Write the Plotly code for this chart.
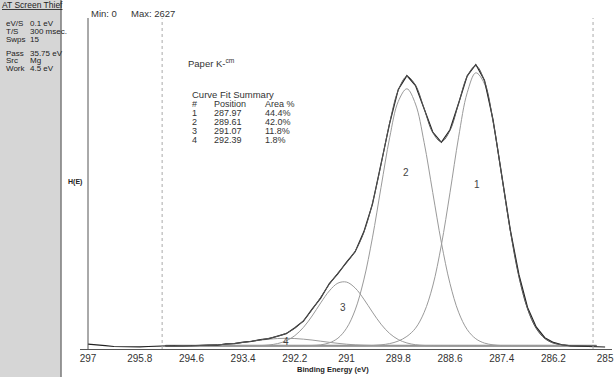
import numpy as np
import plotly.graph_objects as go

# ---------------- data ----------------
tick_vals = [297, 295.8, 294.6, 293.4, 292.2, 291, 289.8, 288.6, 287.4, 286.2, 285]
tick_text = ["297", "295.8", "294.6", "293.4", "292.2", "291", "289.8", "288.6", "287.4", "286.2", "285"]

# raw spectrum, binding energy 297.0 -> 285.0 step 0.2
data_be = [round(297.0 - 0.2 * i, 1) for i in range(61)]
data_counts = [38, 30, 27, 20, 18, 22, 17, 20, 23, 24,
               26, 24, 27, 26, 31, 30, 40, 42, 55, 60,
               75, 82, 104, 122, 168, 222, 316, 404, 520, 598,
               690, 772, 930, 1148, 1470, 1790, 2060, 2170, 2090, 1900,
               1722, 1640, 1740, 1950, 2168, 2258, 2134, 1818, 1385, 945,
               590, 330, 175, 90, 52, 34, 25, 22, 18, 17, 16]

# fit region grid, 295.2 -> 285.2 step 0.2
fit_be = [round(295.2 - 0.2 * i, 1) for i in range(51)]
baseline = 25
peak1 = [0] * 24 + [3, 8, 18, 38, 75, 140, 265, 475, 800, 1215, 1656, 2009, 2167, 2080,
                    1777, 1350, 913, 549, 294, 140, 59, 22, 8, 2, 1, 0, 0]
peak2 = [0] * 16 + [1, 3, 8, 24, 61, 140, 285, 523, 857, 1258, 1652, 1940, 2040, 1919,
                    1615, 1217, 820, 495, 267, 129, 56, 22, 8, 2, 1] + [0] * 10
peak3 = [0] * 10 + [1, 2, 7, 18, 40, 81, 147, 237, 341, 436, 498, 506, 459, 371,
                    268, 172, 98, 50, 23, 9, 3, 1] + [0] * 19
peak4 = [0, 0, 1, 1, 3, 5, 8, 13, 19, 27, 36, 45, 53, 58, 60, 58, 53, 46, 37, 28,
         20, 13, 8, 5, 3, 1, 1] + [0] * 24
envelope = [25, 25, 26, 26, 28, 30, 33, 38, 44, 52, 62, 72, 85, 101, 125, 164, 226,
            311, 411, 513, 604, 684, 777, 924, 1156, 1464, 1794, 2053, 2163, 2093,
            1908, 1718, 1645, 1735, 1948, 2163, 2248, 2127, 1810, 1377, 939, 574,
            319, 165, 84, 47, 33, 27, 26, 25, 25]

peak_labels = ["1", "2", "3", "4"]
peak_label_be = [287.97, 289.62, 291.09, 292.40]
peak_label_y = [1302, 1397, 333, 63]

summary_rows = [["1", "287.97", "44.4%"], ["2", "289.61", "42.0%"],
                ["3", "291.07", "11.8%"], ["4", "292.39", "1.8%"]]
region_bounds = [295.28, 285.28]
y_min, y_max = 0, 2627

info_lines = [["eV/S", "0.1 eV"], ["T/S", "300 msec."], ["Swps", "15"],
              ["Pass", "35.75 eV"], ["Src", "Mg"], ["Work", "4.5 eV"]]

# ---------------- figure ----------------
W, H = 614, 377
L, R, T, B = 80, 2, 18, 28
pw, ph = W - L - R, H - T - B

def px(x):
    return (x - L) / pw

def py(y):
    return (H - B - y) / ph

FONT = "Liberation Sans, Arial, sans-serif"
fig = go.Figure()

bl = np.array(fit_be) * 0 + baseline
fig.add_trace(go.Scatter(x=fit_be, y=bl, mode="lines",
                         line=dict(color="#8a8a8a", width=2), hoverinfo="skip"))
for comp in [peak1, peak2, peak3, peak4]:
    fig.add_trace(go.Scatter(x=fit_be, y=np.array(comp) + baseline, mode="lines",
                             line=dict(color="#9a9a9a", width=1, shape="spline"),
                             hoverinfo="skip"))
fig.add_trace(go.Scatter(x=data_be, y=data_counts, mode="lines",
                         line=dict(color="#222222", width=1.2), hoverinfo="skip"))
fig.add_trace(go.Scatter(x=fit_be, y=envelope, mode="lines",
                         line=dict(color="#555555", width=1, shape="spline"),
                         hoverinfo="skip"))

shapes = []
# left grey panel
shapes.append(dict(type="rect", xref="paper", yref="paper", x0=px(0), x1=px(61),
                   y0=py(377), y1=py(0), fillcolor="#d6d6d6", line=dict(width=0), layer="below"))
shapes.append(dict(type="line", xref="paper", yref="paper", x0=px(61), x1=px(61),
                   y0=py(377), y1=py(0), line=dict(color="#7a7a7a", width=1.5)))
# solid vertical at 297
shapes.append(dict(type="line", xref="x", yref="paper", x0=297, x1=297, y0=0, y1=1,
                   line=dict(color="#555555", width=1)))
# dotted region boundaries
for b in region_bounds:
    shapes.append(dict(type="line", xref="x", yref="paper", x0=b, x1=b, y0=0, y1=1,
                       line=dict(color="#aaaaaa", width=1, dash="dot")))

ann = []
def text(x, y, s, size=9.5, color="#333333", bold=False, xanchor="left"):
    if bold:
        s = "<b>" + s + "</b>"
    ann.append(dict(xref="paper", yref="paper", x=px(x), y=py(y), text=s,
                    showarrow=False, xanchor=xanchor, yanchor="middle",
                    font=dict(family=FONT, size=size, color=color)))

text(89, 13, "Min: 0", 9.5)
text(129, 13, "Max: 2627", 9.5)
text(75, 182, "H(E)", 7, "#222222", bold=True, xanchor="center")
text(186, 63, "Paper K-<sup>cm</sup>", 9.5)
text(190, 95, "Curve Fit Summary", 9.5)
text(190, 104, "#", 9)
text(212, 104, "Position", 9)
text(263, 104, "Area %", 9)
for i, row in enumerate(summary_rows):
    yy = 113 + i * 9
    text(190, yy, row[0], 9)
    text(212, yy, row[1], 9)
    text(263, yy, row[2], 9)

for lab, xb, yb in zip(peak_labels, peak_label_be, peak_label_y):
    ann.append(dict(x=xb, y=yb, xref="x", yref="y", text=lab, showarrow=False,
                    font=dict(family=FONT, size=10, color="#444444")))

# x-axis title
text(333, 369, "Binding Energy (eV)", 7.5, "#222222", bold=True, xanchor="center")

# left panel texts
text(0, 5, "<u>AT Screen Thief</u>", 8.5, "#222222")
for i, (a, b) in enumerate(info_lines):
    yy = 24 + i * 7.6 + (6.5 if i >= 3 else 0)
    text(4, yy, a, 8, "#222222")
    text(28, yy, b, 8, "#222222")

fig.update_layout(
    width=W, height=H, margin=dict(l=L, r=R, t=T, b=B, autoexpand=False),
    paper_bgcolor="white", plot_bgcolor="white", showlegend=False,
    shapes=shapes, annotations=ann,
    xaxis=dict(range=[297.186, 284.84], tickvals=tick_vals, ticktext=tick_text,
               automargin=False,
               showgrid=False, zeroline=False, showline=True, linecolor="#555555",
               linewidth=1, ticks="", tickfont=dict(family=FONT, size=10, color="#333333")),
    yaxis=dict(range=[y_min, y_max], showgrid=False, zeroline=False, showline=False,
               automargin=False, showticklabels=False, ticks=""),
)
fig.write_html("out.html", config={"displayModeBar": False})

# remove the browser's default page margin so the figure sits at the top-left corner
with open("out.html", "r", encoding="utf-8") as f:
    html = f.read()
html = html.replace("<head>", "<head><style>html,body{margin:0;padding:0;overflow:hidden;}</style>", 1)
with open("out.html", "w", encoding="utf-8") as f:
    f.write(html)
